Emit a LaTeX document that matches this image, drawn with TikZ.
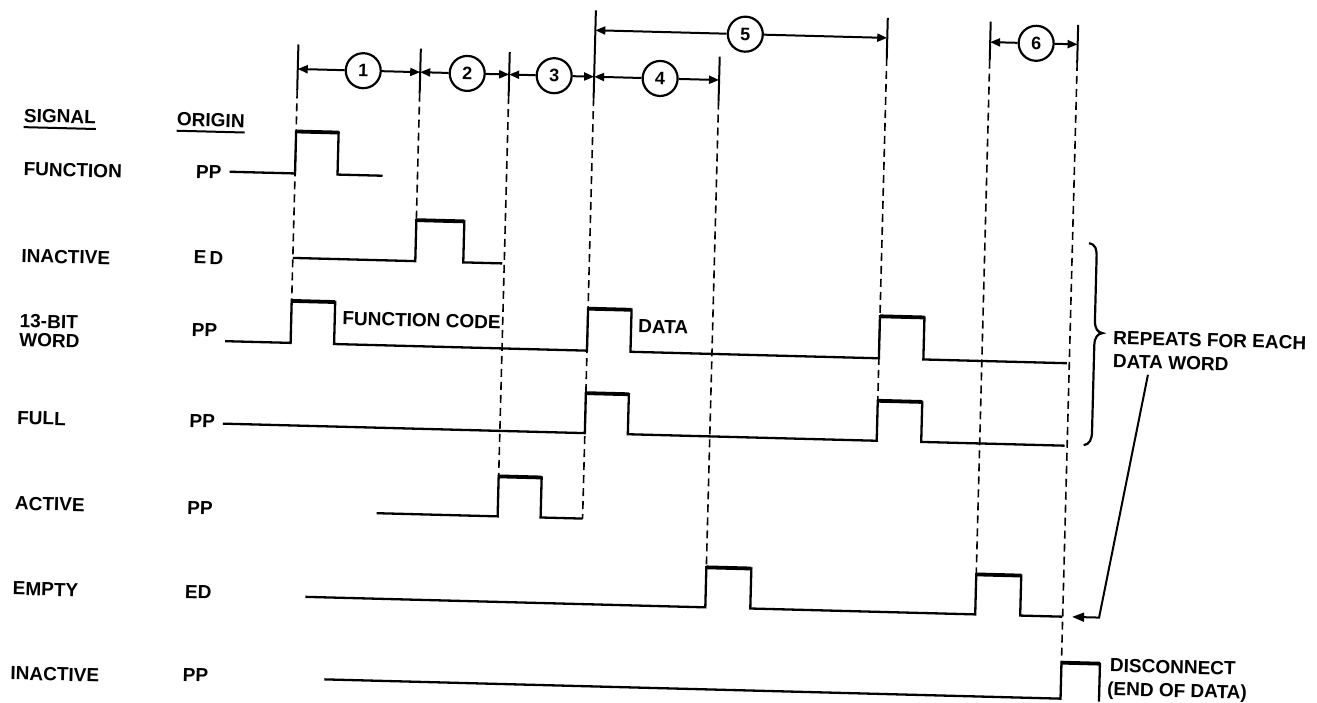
\documentclass[tikz,border=0pt]{standalone}
\usepackage{fontspec}
\setmainfont{Liberation Sans}
\usetikzlibrary{arrows.meta}
\begin{document}
\begin{tikzpicture}[x=1pt,y=-1pt,
  sig/.style={line width=2.3pt,line join=miter,line cap=butt},
  hi/.style={line width=3.8pt,line cap=butt},
  dsh/.style={line width=1.6pt,dash pattern=on 8pt off 5pt},
  tickln/.style={line width=2pt},
  dimline/.style={line width=2pt,-{Triangle[length=10pt,width=8pt]}},
  num/.style={circle,draw,line width=2.2pt,minimum size=35pt,inner sep=0pt,font=\fontsize{18}{18}\selectfont\bfseries},
  lbl/.style={anchor=base west,inner sep=0pt,font=\fontsize{19}{19}\selectfont\bfseries},
  uline/.style={line width=2pt},
  pointer/.style={line width=2pt,-{Triangle[length=12pt,width=9pt]}},
]
\fill[white] (0,0) rectangle (1317,702);
\useasboundingbox (0,0) rectangle (1317,702);
\begin{scope}[rotate around={-1.5:(658,351)},transform shape]
% ticks and dashed guide lines
\foreach \ua/\ta/\ba/\ea in {290.5/54/100/310.5, 413/55/100/226.5, 502/56/100/480.5,
  587/12/100/520.5, 712/55/100/566, 879/12/52/395, 982/13/52/566, 1069.5/14/52/652}{
  \draw[tickln] (\ua,\ta) -- (\ua,\ba);
  \draw[dsh] (\ua,\ba) -- (\ua,\ea);
}
% dimension arrows
\coordinate (a1) at (290.5,78.5);
\coordinate (a2) at (413,78.5);
\coordinate (a3) at (502,78.5);
\coordinate (a4) at (587,78.5);
\coordinate (a5) at (712,78.5);
\coordinate (b1) at (587,32);
\coordinate (b2) at (879,32);
\coordinate (b3) at (982,33.5);
\coordinate (b4) at (1069.5,33.5);
\node[num] (n1) at (356,78.5) {1};
\node[num] (n2) at (460,78.5) {2};
\node[num] (n3) at (547,78.5) {3};
\node[num] (n4) at (653,78.5) {4};
\node[num] (n5) at (737,32) {5};
\node[num] (n6) at (1028,33.5) {6};
\draw[dimline] (n1) -- (a1); \draw[dimline] (n1) -- (a2);
\draw[dimline] (n2) -- (a2); \draw[dimline] (n2) -- (a3);
\draw[dimline] (n3) -- (a3); \draw[dimline] (n3) -- (a4);
\draw[dimline] (n4) -- (a4); \draw[dimline] (n4) -- (a5);
\draw[dimline] (n5) -- (b1); \draw[dimline] (n5) -- (b2);
\draw[dimline] (n6) -- (b3); \draw[dimline] (n6) -- (b4);
% headings
\node[lbl] (hs) at (18,138.8) {SIGNAL};
\node[lbl] (ho) at (171,138.4) {ORIGIN};
\draw[uline] ([yshift=-5pt]hs.base west) -- ([yshift=-5pt]hs.base east);
\draw[uline] ([yshift=-5pt]ho.base west) -- ([yshift=-5pt]ho.base east);
% row labels
\node[lbl] (l1) at (19,192) {FUNCTION};
\node[lbl] (o1) at (191.3,190.2) {PP};
\node[lbl] (l2) at (19,279) {INACTIVE};
\node[lbl] (o2) at (191.3,276) {E\hspace{3pt}D};
\node[lbl] (l3a) at (19,344) {13-BIT};
\node[lbl] (l3b) at (19,363) {WORD};
\node[lbl] (o3) at (191.3,348.6) {PP};
\node[lbl] (l4) at (19,441) {FULL};
\node[lbl] (o4) at (191.3,439.7) {PP};
\node[lbl] (l5) at (19,526.5) {ACTIVE};
\node[lbl] (o5) at (191.3,526.3) {PP};
\node[lbl] (l6) at (19,611.8) {EMPTY};
\node[lbl] (o6) at (191.3,610.5) {ED};
\node[lbl] (l7) at (19,696.4) {INACTIVE};
\node[lbl] (o7) at (191.3,693.8) {PP};
% waveforms
% FUNCTION
\draw[sig] (225,183) -- (290.5,183) -- (290.5,141) -- (333,141) -- (333,183) -- (378,183);
\draw[hi] (290.5,141) -- (333,141);
% INACTIVE (ED)
\draw[sig] (290.5,267.5) -- (413,267.5) -- (413,226.5) -- (461,226.5) -- (461,267.5) -- (500,267.5);
\draw[hi] (413,226.5) -- (461,226.5);
% 13-BIT WORD
\draw[sig] (225,352.5) -- (290.5,352.5) -- (290.5,310.5) -- (334,310.5) -- (334,352.5)
  -- (587,352.5) -- (587,310.5) -- (630.5,310.5) -- (630.5,352.5)
  -- (879,352.5) -- (879,310.5) -- (923.5,310.5) -- (923.5,352.5) -- (1067,352.5);
\draw[hi] (290.5,310.5) -- (334,310.5);
\draw[hi] (587,310.5) -- (630.5,310.5);
\draw[hi] (879,310.5) -- (923.5,310.5);
% FULL
\draw[sig] (225,435) -- (587,435) -- (587,395) -- (630,395) -- (630,435)
  -- (879,435) -- (879,395) -- (923.5,395) -- (923.5,435) -- (1067,435);
\draw[hi] (587,395) -- (630,395);
\draw[hi] (879,395) -- (923.5,395);
% ACTIVE
\draw[sig] (381,520.5) -- (502,520.5) -- (502,480.5) -- (545,480.5) -- (545,520.5) -- (587,520.5);
\draw[hi] (502,480.5) -- (545,480.5);
% EMPTY
\draw[sig] (312,606) -- (712,606) -- (712,566) -- (757,566) -- (757,606)
  -- (982,606) -- (982,566) -- (1027,566) -- (1027,606) -- (1069,606);
\draw[hi] (712,566) -- (757,566);
\draw[hi] (982,566) -- (1027,566);
% INACTIVE (PP)
\draw[sig] (333,688) -- (1069.5,688) -- (1069.5,652) -- (1108,652) -- (1108,690);
\draw[hi] (1069.5,652) -- (1108,652);
% annotations
\node[lbl] (fc) at (341.5,333) {FUNCTION CODE};
\node[lbl] (dt) at (637.5,333.2) {DATA};
\node[lbl] (r1) at (1112.7,332.4) {REPEATS FOR EACH};
\node[lbl] (r2) at (1113,356) {DATA WORD};
\node[lbl] (dc) at (1118,660) {DISCONNECT};
\node[lbl] (eod) at (1115.8,683.5) {(END OF DATA)};
% brace
\draw[line width=2.2pt] (1086,232) .. controls (1093,233) and (1094,238) .. (1094,246)
  -- (1094,309) .. controls (1094,317) and (1097,321) .. (1102,321.5)
  .. controls (1097,322) and (1094,326) .. (1094,334)
  -- (1094,420) .. controls (1094,428) and (1092,433) .. (1086,434);
% pointer from DATA WORD
\coordinate (ps) at (1148.5,362);
\coordinate (pc) at (1106,606);
\coordinate (pt) at (1079,606);
\draw[pointer] (ps) -- (pc) -- (pt);
\end{scope}
\end{tikzpicture}
\end{document}
